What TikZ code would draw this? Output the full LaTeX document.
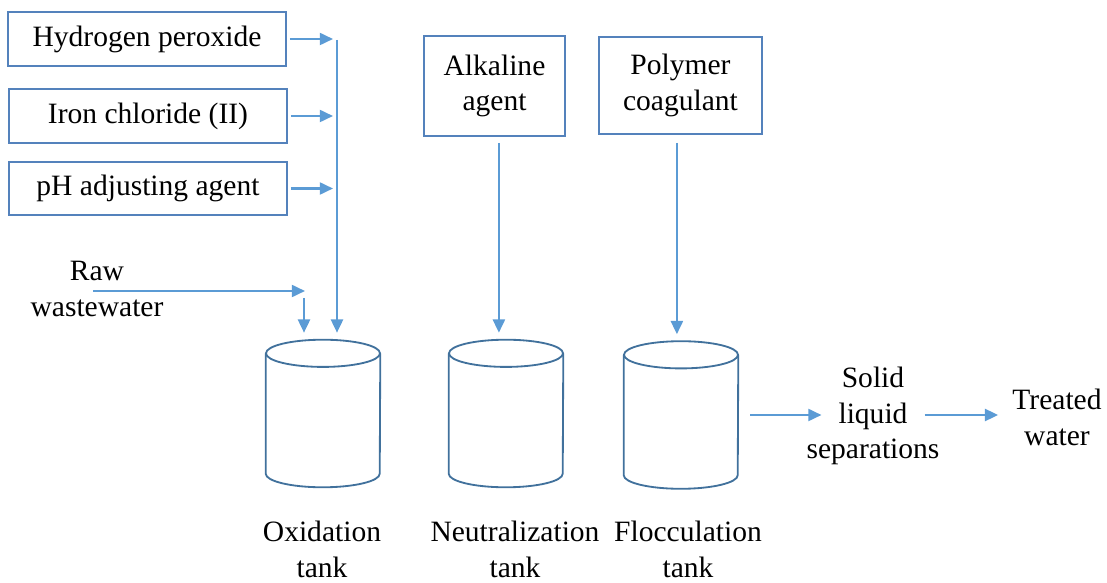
\documentclass[tikz,border=0pt]{standalone}
\usepackage{fontspec}
\setmainfont{Liberation Serif}
\usetikzlibrary{arrows.meta}
\definecolor{flowblue}{RGB}{91,155,213}
\definecolor{boxblue}{RGB}{84,130,188}
\definecolor{tankblue}{RGB}{65,113,156}
\tikzset{
  chem/.style={draw=boxblue, line width=1.2pt, align=center, font=\fontsize{21}{25.5}\selectfont},
  lbl/.style={align=center, font=\fontsize{21}{25.5}\selectfont, inner sep=2pt},
  flow/.style={draw=flowblue, line width=1.6pt, -{Triangle[length=0.33cm,width=0.3cm]}},
  tank/.style={minimum width=2.85cm, minimum height=3.675cm, inner sep=0pt},
  tankline/.style={draw=tankblue, line width=1.3pt}
}
\begin{document}
\begin{tikzpicture}[x=0.025cm,y=0.025cm]
\useasboundingbox (0,0) rectangle (1107,-583);
\def\rx{1.425cm}
\def\ry{0.34cm}

\node[chem, minimum width=6.95cm, minimum height=1.35cm] (hper) at (147,-39) {Hydrogen peroxide};
\node[chem, minimum width=6.95cm, minimum height=1.35cm] (iron) at (148,-116) {Iron chloride (II)};
\node[chem, minimum width=6.95cm, minimum height=1.33cm] (phad) at (148,-188.5) {pH adjusting agent};
\node[chem, minimum width=3.525cm, minimum height=2.5cm] (alka) at (494.5,-86) {Alkaline\\agent};
\node[chem, minimum width=4.075cm, minimum height=2.425cm] (poly) at (680.5,-85.5) {Polymer\\coagulant};

\node[lbl] (raw) at (97,-289) {Raw\\wastewater};

\node[tank] (oxid) at (323,-413.5) {};
\node[tank] (neut) at (506,-413.5) {};
\node[tank] (floc) at (681,-415) {};

\foreach \t in {oxid,neut,floc}{
  \draw[tankline, line join=round] ([yshift=-\ry]\t.north) ellipse [x radius=\rx, y radius=\ry];
  \draw[tankline, line join=round] ([yshift=-\ry]\t.north west) -- ([yshift=\ry]\t.south west)
    arc [start angle=180, end angle=360, x radius=\rx, y radius=\ry]
    -- ([yshift=-\ry]\t.north east);
}

\node[lbl] (oxlbl) at (322,-549) {Oxidation\\tank};
\node[lbl] (nelbl) at (515,-549) {Neutralization\\tank};
\node[lbl] (fllbl) at (688,-549) {Flocculation\\tank};
\node[lbl] (solid) at (873,-416) {Solid\\liquid\\separations};
\node[lbl] (treat) at (1057,-417) {Treated\\water};

\coordinate (jtop) at (337,-40);
\coordinate (rawin) at (93,-291);
\coordinate (rawend) at (305,-291);
\coordinate (rawdrop) at (304,-298);

\foreach \b in {hper,iron,phad}
  \draw[flow, shorten <=0.075cm, shorten >=0.1cm] (\b.east) -- (\b.east -| jtop);
\draw[flow, shorten >=0.175cm] (jtop) -- (jtop |- oxid.north);
\draw[flow] (rawin) -- (rawend);
\draw[flow, shorten >=0.175cm] (rawdrop) -- (rawdrop |- oxid.north);
\draw[flow, shorten <=0.15cm, shorten >=0.175cm] ([xshift=0.11cm]alka.south) -- ([xshift=0.11cm]alka.south |- neut.north);
\draw[flow, shorten <=0.2cm, shorten >=0.175cm] ([xshift=-0.09cm]poly.south) -- ([xshift=-0.09cm]poly.south |- floc.north);
\draw[flow, shorten <=0.3cm] (floc.east) -- ([xshift=0.45cm]solid.west |- floc.east);
\draw[flow, shorten >=0.28cm] ([xshift=-0.45cm]solid.east |- floc.east) -- (treat.west |- floc.east);
\end{tikzpicture}
\end{document}
